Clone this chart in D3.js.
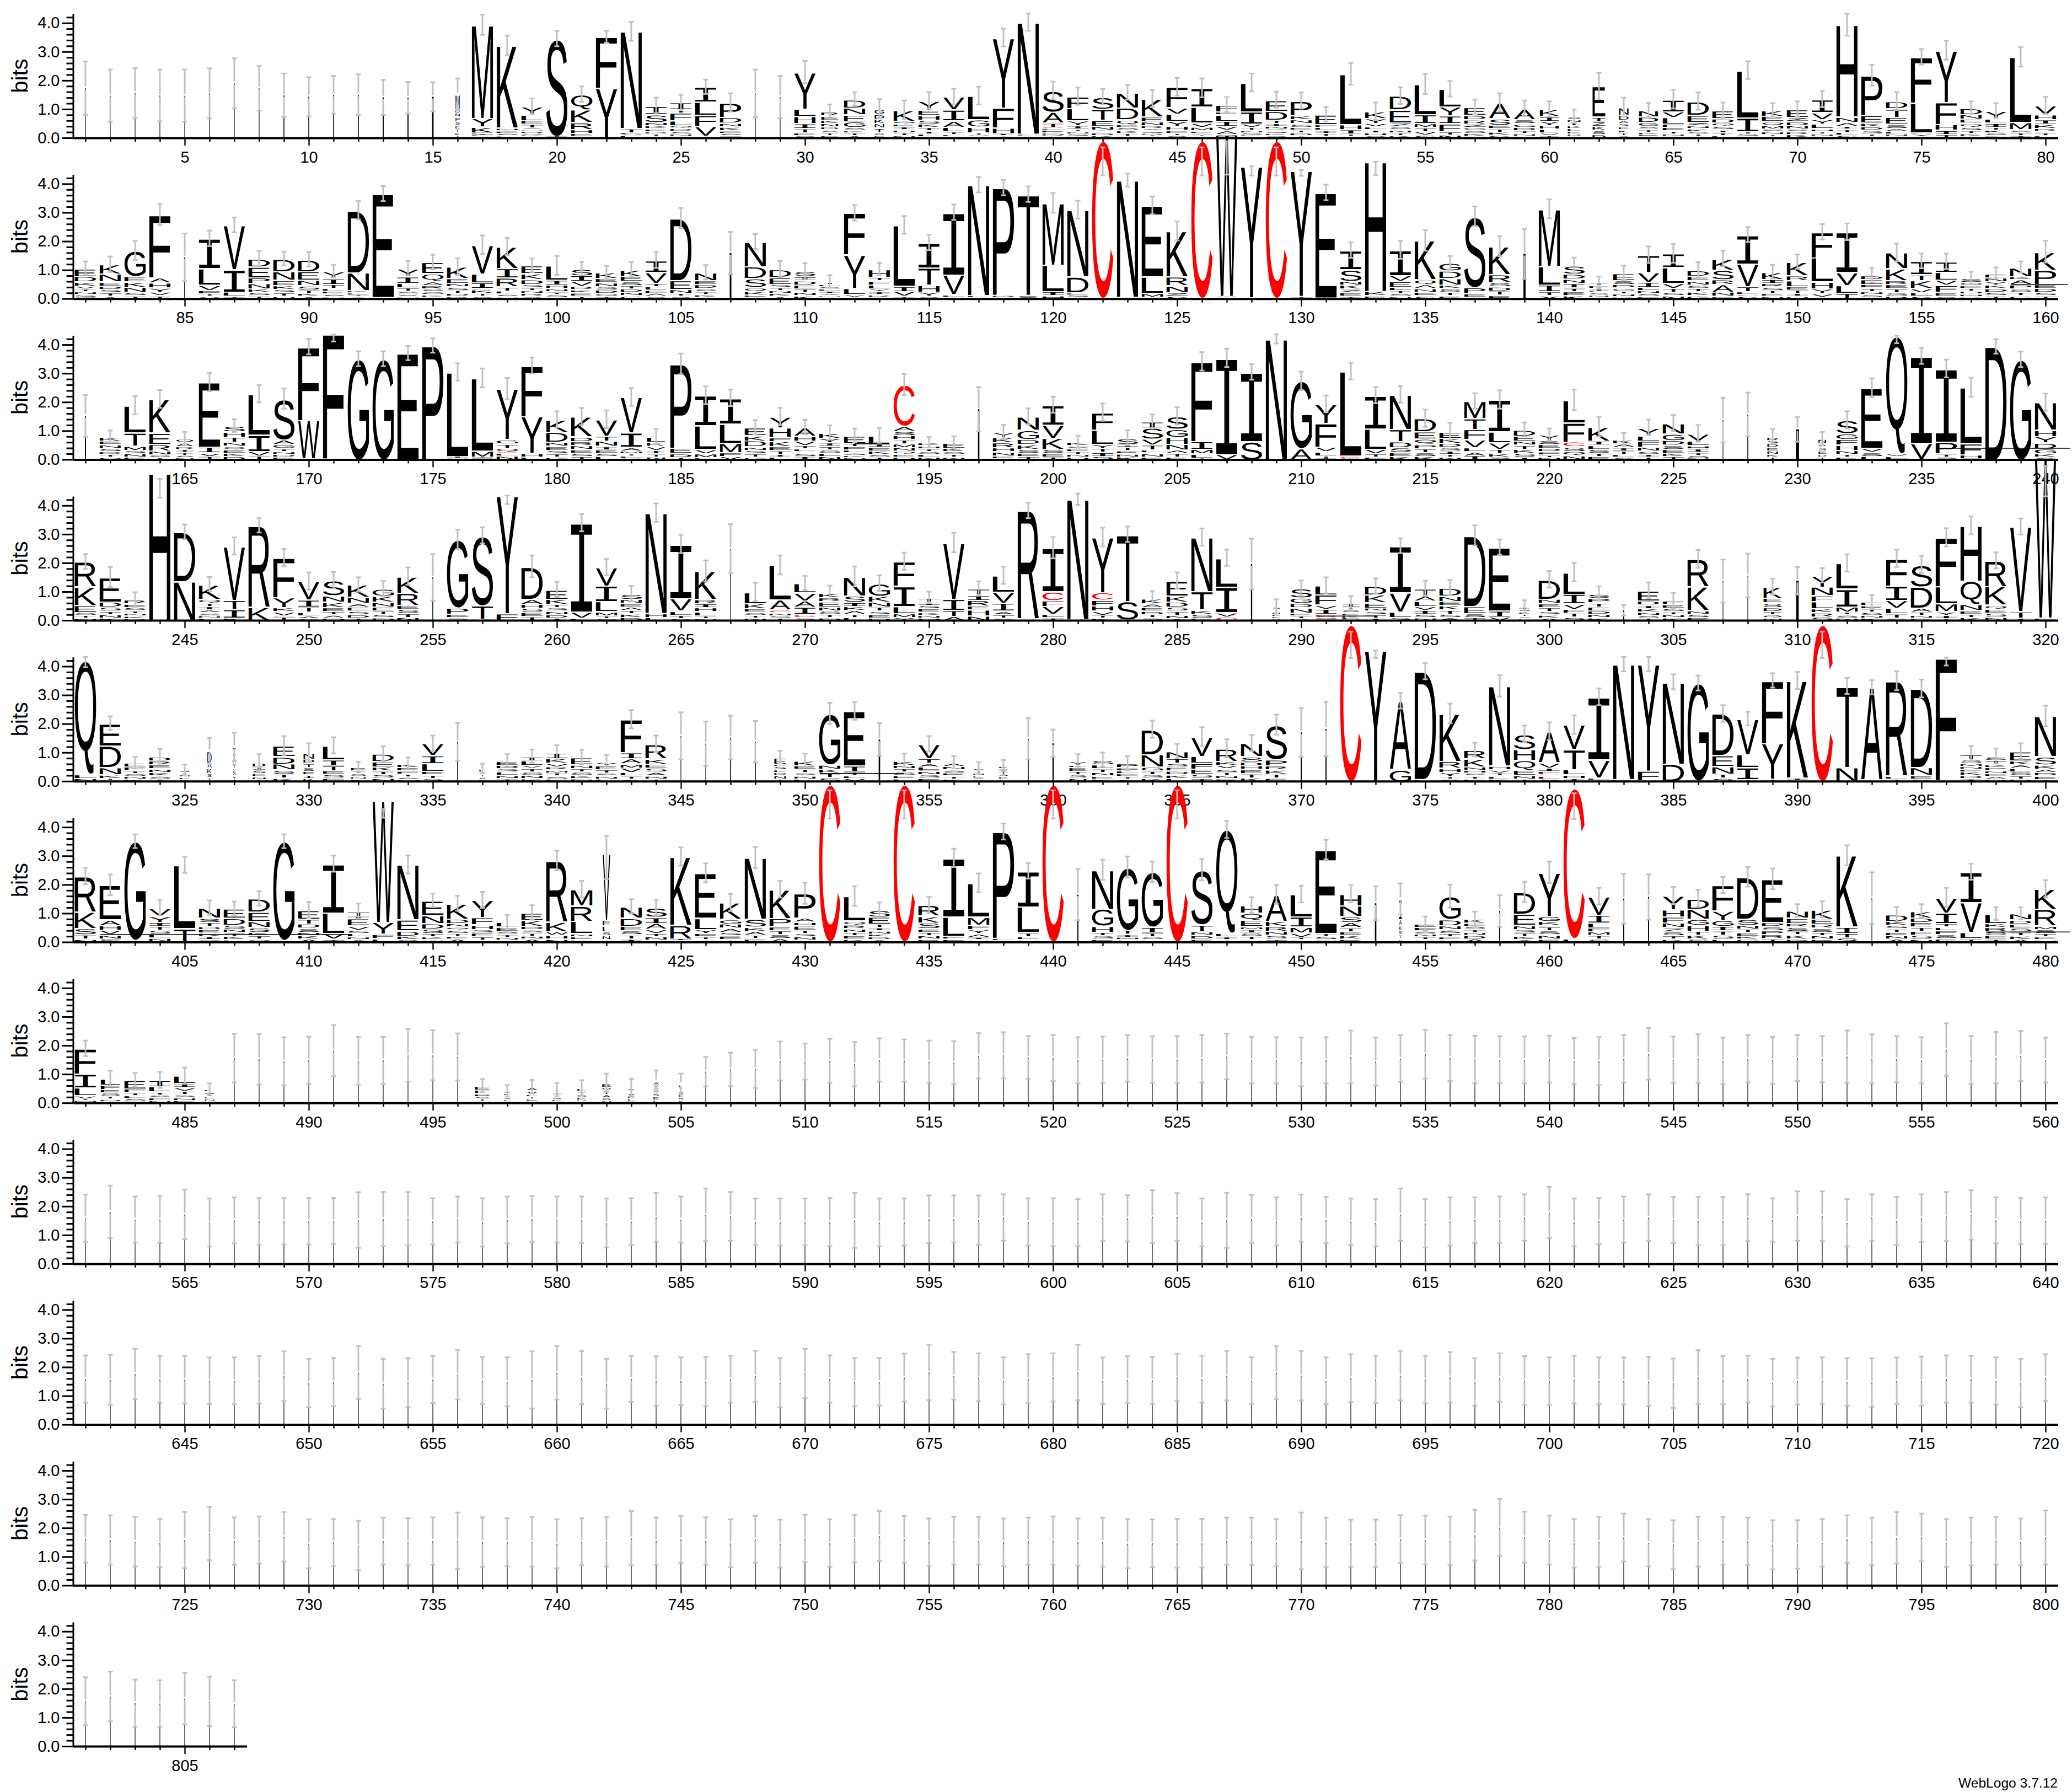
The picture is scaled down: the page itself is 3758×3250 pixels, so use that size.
<!DOCTYPE html>
<html><head><meta charset="utf-8">
<script src="https://cdn.jsdelivr.net/npm/d3@7"></script>
<style>html,body{margin:0;background:#fff}svg{display:block}</style>
</head><body><div id="chart"></div>
<script>
// Each stack string: "err[,widthPct[,centre]] Letter+hundredths-of-bits ..." listed top to bottom; "|n" = sliver too thin for a glyph
const row1Stacks=[
"93,3 |173","91,3 |147","87,3 |156","90,3 |148","91,3 |147","87,3 |155","87,3 |190","78,3 |173","76,4 |148","68,4 |143",
"66,4 |150","71,4 |150","61,5 |141","55,5 |140","51,7 |143","55,20 M50 D14 N14 P14 S14 E13 T12 K11 A10","35 M324 Y30 K20 F5 I5 L5 T5","34 K286 N9 E9 S9 L9","27 Y28 L20 E13 T13 V6 N6 D6 S6 K6 A6","27 S340 T3 E3",
"27 Q53 K44 R24 H14 E10 D7","21 F178 Y174","33 N337 T15 L5 S5 F5 I4","27 I30 S27 N12 K10 E10 D8 T8 H8","26 I25 T10 F27 L17 Q10 D10 S9 N8 K8","25 I52 L46 F38 V34 T8","32 P50 D20 N13 K13 E9 S9 T9","83,3 |155","74,3 |142","39 Y127 L25 H25 I17 T15 E10 S10",
"24,80 R14 E14 K12 N12 D10 S10 T10 F10","24 D29 N24 E24 G20 S10 K8 T10 A10","33,45 G18 D16 K16 N16 T16 S10 E10","32 K38 Q10 E10 I10 D10 T10 N10","29 Y32 E18 H16 S14 K12 T12 I10 L10 N6","27 V45 I38 A22 L16 T10 F8 D5","31 L82 G25 H20 T8 S6 N6","31 Y243 F69 H19 I9 C9","30 N388 C5 L5 V5","31 S74 A38 T15 C4 L6 E6 K6 N4 D6 G6",
"30 F41 L43 Y17 I12 T8 N8 S8 K8","27 S42 T38 E20 N14 A6 C3 D10 K10","26 N53 D41 Q17 E10 S10 K10 T10 G8","30 K62 E17 N14 R10 A8 S8 D6 T6 G6","31 F71 V22 L25 Y18 H14 E10 T8 S10","33 I65 L55 V15 M13 F8 A6 T6 S6","26 F24 E10 L22 I18 V14 A14 S6 T4 N4","31 L100 I43 V12 T10 N8 S8 F6 E6","28 E38 D31 T12 I10 N10 Z6 S8 K8 G10","28 P51 K14 N14 S12 E10 T10 D10 A9",
"25 E34 F10 L10 I10 T10 D8","38 L175 H17 I15 T8 S8","30 K24 Y17 V12 L10 I10 H10 S10","29 D48 E45 Z14 S10 N10 T10 K10","35 L105 I31 M14 T14 V12 S12","27 L62 Y31 I27 F27 T12 N12","26 E27 D15 R15 Z12 G10 S10 K10 N8","32 A55 S22 E12 T12 K11 G11","27 A38 S14 G12 D12 T10 N9 E8","27,90 K24 I16 Y16 H12 L12 V10 T10",
"23,60 S10 N10 I10 K10 L10 E10 D8 T7","46,60 E106 I16 Z16 K14 S14 D14","33,45 N26 D17 A12 S12 E10 K10 T10 G10","25,90 N22 D19 G14 S10 T10 K8 E7 H7","33 I42 V20 L23 F12 E12 T10 N8 K8","30 D47 E25 Z12 N10 K10 S8 T8 G8","27 E27 D15 Q12 S12 I10 T10 L10","31 L164 I48 T8 S8 N8","24 K20 E18 Q14 M12 S10 N10 T7 A6","27 E27 Z14 D14 N12 S10 R10 K10 Q3",
"28 I45 V24 Y16 L16 H10 T8 N8 F8","38 H320 N18 A14 I10 T10 L10 S12","36 P139 E26 K13 D12 S12 T8 N8","31 D25 T30 E24 S14 A10 L9 N8 K8","27 F159 L103 C5 Y10 M5","33 Y180 F77 H20 I14 T14","22 D22 N16 E14 Q14 S12 T10 K9 L8","26 Y28 L14 I14 T10 K10 S10 D9","34 L227 M25 S10 T10 I10","30 V31 H17 I15 K15 R10 C5 T10 L10"];
const row2Stacks=[
"24 E27 D19 K14 V10 T10 N10 S8 Q8","27 K33 N27 E14 D12 S12 T12 A10","33 G89 E19 K18 N18 S12 T12","37 F218 A18 H17 Y15 V13 T12","83,4 |144","27 I104 L57 V18 F12 T9 Y10","26 V154 I78 L15 T10","26 D27 E38 P20 N19 K12 S12 T12","24 D44 N30 E18 K14 S12 T12 H10","25 D41 E30 N19 S15 T12 K10 A10",
"22 Y24 I20 T14 L10 E10 S9 N9","32 D216 N62 K8 E8 T5 S9","26 E360 D6","26 Y27 I23 L16 T12 S10 V9 N9","25 E39 Q27 A14 R12 S10 G10 K8 T8","29 K40 E17 N12 S12 T11 D10 R10","32 V100 L31 I20 C4 K13 T10 S10","30 K75 I33 R31 T14 L11 S9 V9","24 E27 K20 D17 S12 T10 N10 R10 G10","33 L50 I17 H12 N11 T9 S9 V8",
"24 S23 I20 V17 R12 K11 E11 T11","22 K20 E14 N14 S12 D12 Q10 T10","25 K24 E17 S14 T12 D12 N12 G12","28 I41 V38 T12 L12 E11 A11 S10","35 D216 E31 N14 T10 S10","25 N27 E14 D14 S10 T10 K9 G8","74,8 |159","26 N86 D41 S31 Q14 K12 E8 G7","28 D27 E24 S12 T10 N10 K10 A10","28 S17 I14 D15 E14 T12 N12 K12",
"22 T8 F8 S8 L8 I8 V8 N6 E6","27 F145 Y116 L21 V9 T8","22 H27 T12 F14 L14 Y10 I10 R8 N8","31 L212 I18 V17 T10","27 I87 T60 H24 Y15 S10","27 I217 V68 L8 T8","27 N384 L8 T5","27 P373 D6 S8","27 T350 S14","34 M215 L92 I14 H13",
"31 N232 D55 E8 S8 T7","49,100,478 C548 L3","23 N406 K7","31 E247 L57 M14 I7","33 K158 R31 N24 Z12 S11","49,100,478 C548 L3","58,100,490 W563 Y5 F5","16,100,445 Y457 T5","49,100,478 C548 L3","10,100,438 Y437 T10",
"27 E366 S4","27 I66 S40 N14 K14 Z13 E12 T10","23,100,454 H450 K15 E12","31 I88 V20 E20 L12 T10 S10 N10","36 K135 Q17 A14 N13 E12 S12","24 G27 D26 N23 K12 S13 T12 E12","34 S247 P20 E12 T8","35 K97 R27 S15 D15 T15 E14","87,10 |156","33 M198 L65 I24 T14 Y12",
"27 S29 D17 N15 I15 T13 E14 K13","20,90 T10 F10 I8 L7 S8 N7 E7","25 E25 S14 D12 G10 T10 N10 K9","29 T60 V34 I17 L12 N10 S10 E10","33 I48 L55 V17 T14 S12 N12","27 D20 E16 N14 S12 T12 K13 G13","27 K38 S33 R17 A27 N15 E10","26 I100 V79 T18 L10 C5 S11","24 K25 I14 R12 S12 T11 E10 N10","25 K47 R17 L21 E12 T12 I10 H10",
"27 F89 L84 H24 Y16 V12 I8","29 I140 V45 L27 T21","26 D14 E17 F12 T12 N10 S9 K8","31 N55 K41 R14 E14 T14 S12 D11","26 I47 T20 K27 V15 L12 S11","27 I37 L27 V17 F24 C3 E12 S10","22 S14 Q10 E10 T10 D10 N9 K9","20 E14 N14 Y12 K12 D13 S12 T12","20 N31 K11 A17 P15 S12 T12 G12","38 K62 P50 E14 D14 S12 T12"];
const row3Stacks=[
"73,5 |152","21 K14 E12 N12 S12 D10 T10 Q10","32 L94 T46 M15 S12 N12 E10","31 K117 E39 R23 N14 S10 T8","21,80 Q14 A14 R10 I10 T10 S9 N8","32 E225 I20 V12 T13","22 S20 H18 T18 N14 Q12 E12 K12 D12","30 L142 I57 V16 T14","35 S142 A16 G14 T10 N10 D10 E10","27 F255 W134 Y4",
"12,100,423 F433 L4","26 G351","26 G351","25 E371","25 P397","30 L292 I7 V6","33 L253 M21 I5 F5","37 Y176 G15 T14 Q14 C4 L10 N14","28 F176 Y128 H13 L10","28 K43 D35 N14 E14 S12 T12 G10",
"30 K69 D16 R14 N14 E13 S12 T12","31 V57 T17 N18 I12 E12 S12 L12","31 V124 I50 A12 M10 T8 L8 S6","26,85 L18 K14 V14 I12 T11 N11","36 P292 E18 D14 T9","31 I105 L82 V15 M14 F8","29 I89 L67 M33 F14 V12","25 E27 K18 D21 N12 S12 T12 G10","30 Y38 H33 F14 K18 E14 T13 I10 L10","25 A30 H16 V16 T12 L10 C4 S12 I13",
"25 K18 Y16 I12 T12 S12 L12 N12","24 E25 T12 F12 L10 S9 K8 N8","26 L28 I12 E12 K12 S10 T10","37 C143 A17 S15 H15 T14 M14 N12 Q11 E10 D10","18 K10 H10 T10 S10 L10 N10","21 E18 K12 S10 T10 N10","77,7 |175","25 Y17 K18 R18 H14 N14 E10 S5","28 N46 G32 D18 K16 S14 E12 T12","28 I69 V46 K39 S14 E12 T11",
"21 K12 S10 E10 T10 N10 D10","30 F60 L50 Y14 T14 I14 S13","26 S21 I11 T11 E11 N11 K11","24 I21 S39 V21 T17 L10 C3 N12 E10","30 S44 G28 H25 N20 A12 T13 E10","32 F277 I28 M16 L14 T7","32 I335 V19","27 I241 S64","16 N420","32 G235 A39",
"29 Y67 F82 V16 L14 T8 I7","29 L294 C7 S7","28 I115 L71 V16 T12 F10","29 N120 T43 D21 S16 E15 K12","30 D46 E25 Q18 P15 T14 S14 K12","30 E22 K18 D14 S12 I12 T10 N10","27 M60 T38 F35 V28 L14 A14 I15","32 I111 L38 V23 T14 K12 S11","24 D21 E18 N14 T14 K14 S14 I10","21 Y18 S14 E14 D12 F11 T9 N9",
"36 L78 F67 C17 S16 Q15 N15","34 K48 I14 L14 S14 T12 E12","22 K14 A12 I12 T12 L10 S10","27 Y28 L18 F21 N14 S11 I10 T10","28 N36 G23 D16 S14 E14 K12 T12","29 V25 L16 H11 I12 T10 S10 N7","78,3 |137","76,4 |157","26,50 R12 S12 D12 E12 N12 K10 T10","43,15 |105",
"22,35 N15 A12 C3 S12 E12 D10 T10","30 S46 G20 F20 H18 N14 T10 E10","33 E209 V14 S14 L13","13,100,418 Q408 V10 L10 S3","28 I303 V55 L3","31 I255 P40 T11 S11","33 L194 F39 H14 I5","25 D394","27 G349","30 N96 H22 Y22 D20 G18 K12 S10"];
const row4Stacks=[
"26 R87 K64 E25 S10 T10 N9","35 E85 D18 S14 T12 N12 K10","25 R14 E12 S11 T10 N9 K9 D8","33,100,460 H513","26 D172 N136","25 K50 Q14 T12 I12 A10 S10 N9 L9","30 V187 T32 I30 K10","25 R284 K47","30 F138 Y35 K14 V14 C4 T14","30 V64 I25 T18 L12 A10 S8",
"29 S53 N22 K18 E14 T12 A11 D10","25 K43 N21 A12 E14 S13 D12 T10","26 G25 K21 N16 E14 T12 S12 D11","30 K57 R43 E14 S14 T14 N12","81,4 |150","34 G237 P22 E12 S11","28 S243 T47 D6","15,100,420 Y409 F25","38 D112 A18 H14 S14 E15 T15","26 E32 K18 T12 S12 N12 D12 I10",
"30 I310 V21 L9","28 V64 I55 L35 M14 T10 S8","27 S18 N14 E12 A12 T12 K13 D12","32 N349 H14 L12","32 I189 V43 L14 T12 S8","37 K97 R15 I14 H14 L14 T10 N8","85,3 |250","32 L39 K18 E12 S10 T10 N10","33 L120 A35 C10 N10 S8 T10","25 L32 V28 A22 I25 C12 S11",
"24 K16 R14 E18 N14 S12 T12 D11","35 N66 S22 I14 K14 A14 T11 L12","27 G43 K21 N18 T14 S12 E12 D10","30 F85 I70 L25 M14 Y12","20 T14 I12 S12 E12 K10 N10 H10","34 V195 I39 T21 A16","25 T21 I18 R20 E14 H21 N17","30 L57 V38 I28 A12 T12 S10","27 R378 S5","37 I152 C30 F20 V28 L12 T11",
"20 N417 K5","33 Y192 C26 F20 H18 V14 T11 K9","27 T232 S65 L3","25 K17 A14 E12 D12 T11 S11","28 E52 K21 D18 S14 T14 N12 I8","30 N188 T64 K14 S14 E10","28 L100 I89 V15 C14","88,6 |196","25,35 S8 T8 N8 L8 E8 D8","27 S32 G19 D15 N18 E10 T10 K8",
"28 L32 F35 V14 I18 C12 S6 T5","25,80 I12 T10 S10 E10 K8 L5 N5","26 D30 K27 E18 N11 S12 T12 I10","26 I162 V67 L19 S12","26 T25 A18 L18 V14 I14 S12 N11","27 D28 N18 E15 K15 T14 S12 A12","35 D245 E25 S14 T12","27 E220 I21 V14","22,50 I8 S8 L8 T8 V8 E8","29 D67 N15 E14 T14 S12 K11 A10",
"32 L75 I34 V18 F14 T14 S13","25 S15 P15 T14 E14 D12 N12 K11","18,5 |35","28 E35 D14 I12 K12 N11 S10 T10","27 F12 E12 S12 T11 N11 K11","31 R96 K82 N12 S12 E12","75,3 |137","76,3 |156","27,85 K39 E16 S16 D14 T12 Q11 N10","48,12 |138",
"25 Y39 N30 F20 L25 K14 R15 S14","30 L89 I62 M18 T10 S11 N10","23 F12 E11 T11 S11 N10 K10","30 F94 I50 V27 L20 T15 S10","30 S76 D74 A14 T12 N10 E9","32 F170 L60 M27 Y12 I12 T8","31 H192 Q82 N21 E12 T12 K12","28 R90 K64 Q14 E14 S14 N13","28 V295 T22 I10","53,100,485 W555 F10"];
const row5Stacks=[
"18,100,415 Q394 L14 N12","24 E77 D75 N25 K13 T6 S6","20 E14 F12 T10 S10 N10 K9","26 D14 R14 E14 N12 K12 S11 T10","18,45 S8 T8 N8 E8 K8","46,20 D40 A18 K18 S15 T14","49,12 I30 A25 Y20 C5 S20 T20","28,60 D14 I12 S12 E10 N10 T8","33 E37 D25 N21 S14 T14 K13","32,50 N21 D15 T14 S14 E12 I12 K12",
"28 L48 I21 T18 E12 S13 F13","18,70 E12 T10 S10 N9 K9","26 D26 E18 K14 T13 S13 N12","21 K12 E12 F11 T10 S9 N8","27 V41 I28 L27 E12 T12 S12","66,4 |137","17,30 L10 I10 T8 S8 N8","22 E14 D12 S12 L12 N11 T11","23 I14 L16 V10 T12 S12 N12 K11","25 I20 K16 V12 R11 M10 T11 S10 E10",
"25 E25 N13 T12 S12 K11 D11","23 Y12 E14 T12 S10 N10 L10","32 F115 I21 A18 M14 V16 L12 T11 S9","29 R50 K18 E14 S14 A13 N11 T10","82,3 |158","77,3 |131","76,4 |152","72,4 |138","22,55 E22 F8 S12 L10 D10 N12 T10","23 K17 E12 T12 S11 N11 L10",
"37 G177 N15 K14 T15 S15","31 E190 I21 T12 L10 V12","57,7 |145","23 K15 N12 T12 S12 E11 L11","27 V50 T16 A12 L12 C4 N12 S12 E12","21 A12 N12 S11 E11 T10 K10","20,50 S8 T8 N8 E8 A7 K7","20,40 K9 I9 T9 S9 E9 L9","72,4 |148","48,6 |132",
"22,80 Y14 L8 E14 T12 S12 N12","25 S16 L14 T13 N12 E10 K10","24 P14 F11 L10 E10 T9 S9","30 D87 N43 G14 T13 S12 K12","25 N25 T16 S13 E13 D13 K13 L12","33 V67 L24 F20 E18 S14 T12","31 R44 K14 V12 S12 T11 N11 E11","28 N46 S18 D14 H12 E14 T15 K14","35 S120 P21 R14 K15 T14 E13","85,5 |170",
"95,5 |182","46,100,475 C546","13,100,442 Y455","27 A238 G42","28 D375 E8","34 K165 R24 H14 Y14 T9 S10","24 R30 K28 N12 H10 S10 T10 E10","37 N277 H13 V11 T11 L10 K10","29 S52 H38 Q35 E18 N12 T10","31 A108 V18 I12 F10 C6 L10 S10",
"32 V85 T70 L18 H12 I12","29 I218 V62 L8 T6","25 N400 K8","25 Y371 F34 L3","26 N284 D62","26 G340 N2","29 D145 E38 N26 T14 S13","24 V124 L45 I42 T7","25 F218 Y124 T7 L2","30 K338 I7 L6",
"46,100,475 C546","28 T282 N50","25 A322 L5","33 R331 L10 T9","31 D274 N27 E12 S10","14,100,417 F425 L4","28 T19 S12 M10 N10 E10 K12 D11 I11","26 S13 T16 K10 P10 N10 E10 A10 D9","27 E32 K14 A12 L12 S13 T12 D10","36 N140 S28 K15 A12 D12 E12 T8"];
const row6Stacks=[
"29 R124 K57 S22 T15 N12","36 E120 A20 H16 V16 N14 S13","24 G344 S7","27 V28 Y21 I14 T14 S14 L13 N13 E3","28 L220 T49","25 N35 S15 T14 D11 E12 K11 I11 Q11","24 E32 D24 S14 N12 T12 K12 L11","25 D46 E32 N21 S17 K12 T12 Q12","24 G344 S7","28 E30 T17 D15 S14 N12 K12 A12",
"28 I170 L71 V20 T12","26 T16 I9 E25 V14 S12 L12 N10 A10","15,100,448 W423 Y41 F15 L14","31 N191 E38 D18 K13 S10","24 E50 N28 D19 S16 T12 K10 Q10","26 K53 D16 N12 Q10 S12 T10 E10 A12","28 Y60 F25 H16 S12 E14 T12 K8","24 L16 E14 S11 T10 N10 K9","25 E25 K21 D12 S11 T11 N11 A12","34 R213 K34 W12 H13 N12",
"29 M57 R53 L43 N10 E11 K10","75,35,295 V230 E20 L20 S14 N14 I10","25 N39 D28 E16 S14 T14 I13","27 S32 I21 A21 V14 T12 N12 L8","32 K237 R48 I7 E6","33 E156 L39 Y14 F12 T10 I10","30 K57 G16 N15 A15 S12 E13 T10","37 N213 S27 K14 A14 T12 E14","29 K100 P28 E14 T14 S14 A14","37 P85 A14 H12 E15 T12 S12 N12 F8",
"49,100,479 C548 L2","34 L85 Q14 R13 N12 T12 E12 K12","26 S23 E25 T12 I11 N11 K10 D10 A10","49,100,479 C548 L2","28 R37 K23 S21 E12 T12 N12 D12","32 I204 L67 F10 E12","33 L117 M28 F16 Y14 A12 I9 V10","28 P370 L8 I7","27 I124 L89 T14 F11 V10","49,100,479 C548 L2",
"89,5 |165","35 N135 G60 H21 T12 S12 E12","37 G218 T14 I10 M9 L10","36 G191 I20 T14 S10 L10","49,100,479 C548 L2","37 S191 T24 N12 D12 E13","30 Q360 L12 I10 T10","27 H26 Q25 E22 M10 I12 S12 T12 N10","33 A92 K18 R17 N14 S13 T12","29 L78 I35 M20 V15 T9 F10",
"34 E290 T10 S12 Q10","30 H40 N37 S21 A18 T14 E13 K13 D12","59,7 |135","54,12 I70 A20 K18 S15 T15 N12","24 E12 F12 S11 N10 T10 D10","40 G80 D21 N14 S13 T12 E10 K10","24 K14 E11 S11 T10 N10 D13 A13","55,5 |108","35 D76 E39 N14 S12 T12 K12 A10","37 Y151 G18 K14 C5 T14 S14 N14 E13",
"45,100,473 C523 L14","29 V64 I28 L17 F14 M12 T13 S12","87,5 |151","79,5 |157","30 Y48 H25 F21 N16 Z14 S14 T12 K12","30 D35 N35 G21 H21 T14 K14 S12","28 F89 Y32 G21 I16 T15 S14 L12","34 D145 S21 N14 T12 E12 K11 G12","36 E150 D14 S14 P14 R14 T14","22 N25 E18 R13 S14 T13 K14 D13",
"28 K32 E18 R14 S14 T12 N12 D12","35 K248 I22 T16 S16","90,3 |153","25 D23 K14 S12 T12 E12 N12 A12","23 K23 D16 E16 T14 F14 S14 N12","33 V53 I37 T12 L12 F14 S14 E14","28 I106 V104 L21 T14","22 L32 K14 R14 S13 E13 T13","21 N21 D14 E14 S14 T13 K13 A11","30 K70 R58 M12 S14 T12 E10 N10"];
const row7Stacks=[
"27 F88 I48 L27 V11 T6 M5 S5","27,90 L21 F15 E12 S12 T10 N8 K7","24 E30 F12 T10 L10 S10 N8","28 I22 L18 T10 S10 F10 N10","28 L26 I13 V13 T12 S11 N10 E10","20,45 L8 S8 T8 E8 N8 K8",
"85,3 |156","88,3 |152","84,3 |145","82,3 |148","89,3 |182","84,3 |146","82,3 |148","92,3 |166","87,3 |166","82,3 |160",
"23,70 E14 F12 P10 S8 T8 N8","20,30 I7 L7 T7 S7 E7 N7","24,50 A12 V12 L8 T8 E8 N8","23,40 Y8 I8 T8 S8 E8 N6","27,40 L10 T10 S10 E10 N6 K6","32,40 E14 Q12 T12 A12 S10 N10","30,30 A9 T9 S9 E9 L9 K9","37,25 A13 I13 T13 S13 E12 L12","36,20 L11 T11 S11 E11 N11 K11"];
const row7GapHi=[1.6,1.75,1.85,2.14,2.07,2.23,2.12,2.25,2.21,2.17,2.15,2.43,2.46,2.33,2.36,2.29,2.31,2.36,2.32,2.33,2.36,2.41,2.3,2.29,2.28,2.29,2.52,2.28,2.36,2.54,2.36,2.34,2.32,2.31,2.34,2.26,2.29,2.36,2.61,2.31,2.39,2.27,2.36,2.3,2.36,2.33,2.52,2.39,2.32,2.29,2.77,2.33,2.47,2.51,2.27];
const row7GapLo=[.58,.58,.52,.78,.81,.7,.58,.74,.74,.7,.65,.85,.87,.84,.76,.68,.7,.74,.7,.68,.71,.82,.68,.68,.58,.68,.68,.6,.73,.85,.76,.68,.68,.68,.71,.65,.62,.71,.81,.7,.7,.65,.71,.66,.76,.72,.7,.68,.72,.68,.94,.65,.68,.76,.71];
const row8GapHi=[2.41,2.72,2.34,2.36,2.58,2.27,2.31,2.29,2.29,2.29,2.29,2.49,2.5,2.5,2.28,2.34,2.28,2.34,2.36,2.34,2.34,2.27,2.28,2.47,2.34,2.62,2.5,2.27,2.27,2.27,2.29,2.47,2.27,2.27,2.38,2.38,2.38,2.42,2.28,2.28,2.25,2.42,2.39,2.56,2.46,2.27,2.47,2.39,2.31,2.41,2.33,2.27,2.25,2.62,2.25,2.31,2.31,2.34,2.42,2.68,2.27,2.29,2.34,2.42,2.33,2.33,2.33,2.42,2.28,2.52,2.52,2.25,2.42,2.33,2.42,2.5,2.56,2.31,2.29,2.31];
const row8GapLo=[.76,.89,.74,.72,.85,.6,.71,.66,.67,.67,.69,.55,.61,.64,.67,.74,.6,.71,.76,.74,.72,.56,.65,.76,.74,.79,.8,.65,.63,.64,.61,.55,.6,.63,.72,.74,.66,.8,.63,.61,.61,.79,.77,.72,.8,.61,.55,.72,.63,.77,.72,.65,.6,.8,.56,.63,.72,.72,.8,.89,.61,.68,.74,.79,.72,.65,.65,.79,.76,.8,.8,.6,.8,.65,.76,.79,.84,.71,.68,.69];
const row9GapHi=[2.41,2.43,2.64,2.39,2.39,2.34,2.34,2.39,2.55,2.29,2.32,2.73,2.29,2.32,2.39,2.6,2.36,2.34,2.55,2.73,2.56,2.29,2.39,2.38,2.34,2.36,2.4,2.57,2.32,2.64,2.41,2.32,2.32,2.47,2.78,2.53,2.48,2.34,2.45,2.48,2.78,2.34,2.38,2.36,2.47,2.4,2.57,2.34,2.73,2.57,2.34,2.45,2.4,2.57,2.4,2.53,2.31,2.48,2.38,2.34,2.4,2.34,2.34,2.36,2.3,2.59,2.38,2.4,2.29,2.33,2.34,2.31,2.31,2.34,2.37,2.41,2.4,2.34,2.29,2.45];
const row9GapLo=[.76,.68,.89,.76,.73,.71,.71,.73,.82,.6,.64,.89,.56,.6,.75,.87,.71,.64,.56,.87,.71,.56,.79,.66,.68,.64,.76,.79,.6,.92,.76,.64,.66,.8,.85,.87,.81,.7,.74,.81,.85,.71,.74,.72,.82,.76,.84,.72,.88,.84,.71,.79,.74,.84,.74,.77,.66,.79,.69,.68,.74,.71,.7,.64,.58,.71,.71,.77,.63,.7,.73,.66,.62,.71,.66,.76,.76,.7,.6,.82];
const row10GapHi=[2.46,2.44,2.39,2.32,2.56,2.74,2.37,2.4,2.56,2.3,2.31,2.25,2.36,2.34,2.37,2.54,2.37,2.34,2.38,2.3,2.34,2.39,2.59,2.37,2.42,2.37,2.3,2.42,2.29,2.46,2.3,2.46,2.59,2.42,2.33,2.39,2.39,2.33,2.36,2.4,2.33,2.36,2.31,2.3,2.32,2.32,2.36,2.36,2.31,2.54,2.36,2.29,2.29,2.45,2.43,2.4,2.63,3.01,2.57,2.43,2.31,2.39,2.5,2.31,2.27,2.39,2.39,2.36,2.27,2.27,2.31,2.44,2.36,2.55,2.5,2.31,2.36,2.38,2.33,2.61];
const row10GapLo=[.79,.72,.66,.63,.6,.88,.72,.76,.83,.6,.68,.53,.73,.7,.72,.57,.65,.68,.66,.6,.7,.66,.7,.72,.79,.72,.63,.79,.62,.81,.65,.8,.84,.79,.68,.73,.73,.67,.72,.73,.69,.66,.6,.64,.62,.62,.72,.71,.68,.56,.64,.65,.65,.77,.73,.72,.87,1.02,.79,.73,.62,.65,.83,.66,.56,.66,.72,.71,.56,.58,.66,.79,.7,.76,.84,.65,.7,.73,.7,.73];
const row11GapHi=[2.4,2.6,2.32,2.3,2.56,2.42,2.3];
const row11GapLo=[.73,.87,.68,.68,.76,.7,.66];
// Long stretched hairline glyph artefacts in the reference: [row index, from position, to position, bits]
const strayRules=[[1,158.6,160.9,.49],[2,235.7,241,.39],[2,192,193.4,.55],[3,290.6,293,.15],[4,350.6,354,.27],[5,401.6,411.7,.26],[5,477.6,481,.35]];
const yMajorTicks=[0,1,2,3,4];
const yMinorTicks=[.2,.4,.6,.8,1.2,1.4,1.6,1.8,2.2,2.4,2.6,2.8,3.2,3.4,3.6,3.8,4.2];
const footer="WebLogo 3.7.12";
const redLetters=["C"];

function parse(s){const p=s.split(" ");const h=p[0].split(",").map(Number);
  const toks=p.slice(1).map(t=>({l:t[0],h:+t.slice(1)/100}));
  const tot=d3.sum(toks,t=>t.h);
  return {e:h[0]/100,w:(h[1]===undefined?100:h[1])/100,c:h[2]===undefined?tot:h[2]/100,toks,tot};}
function gaps(hi,lo){return hi.map((v,i)=>({e:(v-lo[i])/2,w:.03,c:(v+lo[i])/2,tot:(v+lo[i])/2,toks:[{l:"|",h:(v+lo[i])/2}]}));}
const rows=[row1Stacks.map(parse),row2Stacks.map(parse),row3Stacks.map(parse),row4Stacks.map(parse),row5Stacks.map(parse),row6Stacks.map(parse),
 row7Stacks.map(parse).concat(gaps(row7GapHi,row7GapLo)),gaps(row8GapHi,row8GapLo),gaps(row9GapHi,row9GapLo),gaps(row10GapHi,row10GapLo),gaps(row11GapHi,row11GapLo)];

const W=3758,H=3250,FONT="'Liberation Sans',Arial,sans-serif",WEIGHT=400;
const svg=d3.select("#chart").append("svg").attr("width",W).attr("height",H).style("background","#fff");
const ctx=document.createElement("canvas").getContext("2d");
const metrics={};
function fontFor(l){return l==="I"?"'Liberation Mono'":"'Liberation Sans'";}
function ink(l){if(!metrics[l]){ctx.font=`${WEIGHT} 200px ${fontFor(l)}`;const m=ctx.measureText(l);
  metrics[l]={l:m.actualBoundingBoxLeft,r:m.actualBoundingBoxRight,a:m.actualBoundingBoxAscent,d:m.actualBoundingBoxDescent};}return metrics[l];}
const COL=45,LEFT=132.5,BASE0=250,DY=291.7,BITPX=52.08,FULLW=38.5,GLYPHGAP=2.4;
rows.forEach((row,ri)=>{
  const start=ri*80+1,end=start+row.length-1,base=BASE0+ri*DY;
  const x=d3.scaleLinear().domain([start-.5,end+.5]).range([LEFT,LEFT+COL*row.length]);
  const y=d3.scaleLinear().domain([0,4.32]).range([base,base-4.32*BITPX]);
  const g=svg.append("g");
  const st=g.append("g");
  row.forEach((p,i)=>{const pos=start+i;let acc=p.tot;const w=Math.max(FULLW*p.w,1),cx=x(pos);
    p.toks.forEach(t=>{const top=acc,bot=acc-t.h;acc=bot;
      if(t.l==="|"){st.append("line").attr("x1",cx).attr("x2",cx).attr("y1",y(0)).attr("y2",y(top)).attr("stroke","#000").attr("stroke-width",w);return;}
      const m=ink(t.l),box=y(bot)-y(top),gh=Math.max(box-GLYPHGAP,box*.45),sx=w/(m.l+m.r),sy=gh/(m.a+m.d);
      st.append("text").text(t.l).attr("font-family",fontFor(t.l)).attr("font-weight",WEIGHT).attr("font-size",200)
        .attr("fill",redLetters.includes(t.l)?"#f00":"#000").attr("text-rendering","geometricPrecision")
        .attr("transform",`translate(${cx-w/2+m.l*sx},${y(bot)-m.d*sy}) scale(${sx},${sy})`);
    });});
  strayRules.filter(r=>r[0]===ri).forEach(r=>st.append("line").attr("x1",x(r[1])).attr("x2",x(r[2])).attr("y1",y(r[3])).attr("y2",y(r[3])).attr("stroke","#000").attr("stroke-width",1.5));
  const eb=g.append("g").attr("stroke","#c0c0c0").attr("fill","none");
  row.forEach((p,i)=>{const cx=x(start+i),hi=p.c+p.e,lo=Math.max(0,p.c-p.e);
    const thin=p.w<.3,gap=thin?3:0;
    eb.append("line").attr("x1",cx).attr("x2",cx).attr("y1",y(hi)).attr("y2",y(p.c)-gap).attr("stroke-width",3);
    eb.append("line").attr("x1",cx).attr("x2",cx).attr("y1",y(p.c)+gap).attr("y2",y(lo)).attr("stroke-width",3);
    [hi,lo].forEach(v=>eb.append("line").attr("x1",cx-4.5).attr("x2",cx+4.5).attr("y1",y(v)).attr("y2",y(v)).attr("stroke-width",3));
  });
  const ax=g.append("g").attr("transform",`translate(${LEFT},0)`);
  ax.call(d3.axisLeft(y).tickValues(yMajorTicks).tickFormat(d3.format(".1f")).tickSize(20).tickPadding(4).tickSizeOuter(0));
  ax.append("g").call(d3.axisLeft(y).tickValues(yMinorTicks).tickFormat("").tickSize(12).tickSizeOuter(0)).select(".domain").remove();
  ax.selectAll("line").attr("stroke-width",3);ax.select(".domain").attr("stroke-width",3);
  ax.selectAll("text").attr("font-family",FONT).attr("font-size",29).attr("fill","#000");
  const bx=g.append("g").attr("transform",`translate(0,${base})`);
  const all=d3.range(start,end+1);
  bx.call(d3.axisBottom(x).tickValues(all.filter(v=>v%5===0)).tickFormat(d3.format("d")).tickSize(14).tickPadding(10).tickSizeOuter(0));
  bx.append("g").call(d3.axisBottom(x).tickValues(all.filter(v=>v%5!==0)).tickFormat("").tickSize(7).tickSizeOuter(0)).select(".domain").remove();
  bx.selectAll("line").attr("stroke-width",2.4);bx.select(".domain").attr("stroke-width",4);
  bx.selectAll("text").attr("font-family",FONT).attr("font-size",29).attr("fill","#000");
  g.append("text").text("bits").attr("transform",`translate(50,${y(2.16)}) rotate(-90)`).attr("text-anchor","middle").attr("font-family",FONT).attr("font-size",40).attr("fill","#000");
});
svg.append("text").text(footer).attr("x",3732).attr("y",3242).attr("text-anchor","end").attr("font-family",FONT).attr("font-size",24.6).attr("fill","#000");
</script></body></html>
